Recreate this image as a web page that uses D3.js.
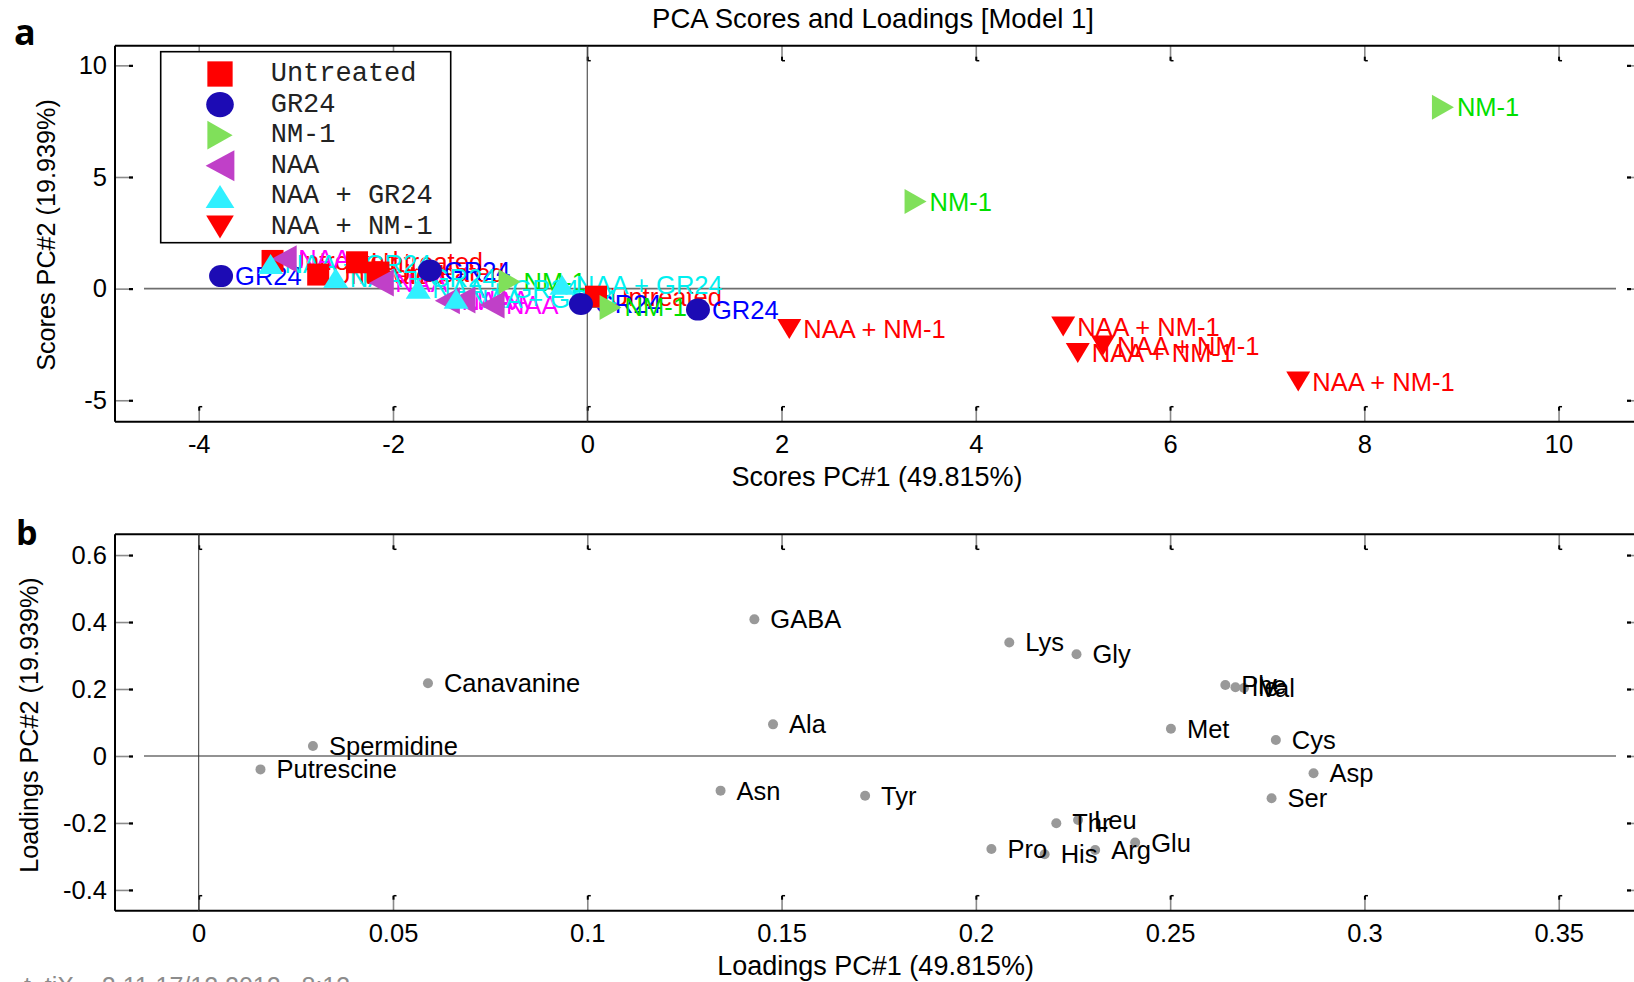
<!DOCTYPE html>
<html><head><meta charset="utf-8">
<script src="https://cdn.jsdelivr.net/npm/d3@7"></script>
<style>
body{margin:0;background:#fff}
svg{display:block}
</style>
</head><body>
<svg id="c" width="1634" height="982" font-family='"Liberation Sans",Arial,sans-serif'></svg>
<script>
// ---------------- DATA ----------------
const groupNames = ["Untreated","GR24","NM-1","NAA","NAA + GR24","NAA + NM-1"];
// scores [PC1, PC2]
const untreated = [[-3.24,1.24],[-2.77,0.63],[-2.37,1.18],[-2.15,0.72],[0.09,-0.36]];
const gr24      = [[-3.77,0.56],[-1.62,0.81],[-0.065,-0.69],[1.14,-0.94]];
const nm1       = [[8.81,8.12],[3.38,3.90],[-0.80,0.31],[0.24,-0.84]];
const naa       = [[-3.12,1.34],[-2.12,0.25],[-1.44,-0.54],[-1.28,-0.51],[-0.98,-0.73]];
const naaGr24   = [[-3.26,1.10],[-2.59,0.48],[-1.74,-0.01],[-1.35,-0.45],[-0.26,0.17]];
const naaNm1    = [[2.08,-1.81],[4.90,-1.70],[5.31,-2.55],[5.05,-2.88],[7.32,-4.16]];

const scoreXTicks = [-4,-2,0,2,4,6,8,10];
const scoreXTickLabels = ["-4","-2","0","2","4","6","8","10"];
const scoreYTicks = [-5,0,5,10];
const scoreYTickLabels = ["-5","0","5","10"];

// loadings
const loadNames = ["Putrescine","Spermidine","Canavanine","GABA","Ala","Asn","Tyr","Lys","Gly","Phe","Ile","Val","Met","Cys","Asp","Ser","Thr","Leu","Pro","His","Arg","Glu"];
const loadPC1 = [0.0159,0.0294,0.0590,0.1430,0.1478,0.1343,0.1715,0.2086,0.2259,0.2642,0.2668,0.2690,0.2502,0.2772,0.2869,0.2761,0.2207,0.2263,0.2040,0.2177,0.2307,0.2410];
const loadPC2 = [-0.040,0.030,0.217,0.408,0.0945,-0.1035,-0.119,0.339,0.304,0.212,0.205,0.203,0.0815,0.0478,-0.0517,-0.126,-0.201,-0.191,-0.2776,-0.2934,-0.2806,-0.2587];

const loadXTicks = [0,0.05,0.1,0.15,0.2,0.25,0.3,0.35];
const loadXTickLabels = ["0","0.05","0.1","0.15","0.2","0.25","0.3","0.35"];
const loadYTicks = [-0.4,-0.2,0,0.2,0.4,0.6];
const loadYTickLabels = ["-0.4","-0.2","0","0.2","0.4","0.6"];

// ---------------- STYLE ----------------
const SANS = '"Liberation Sans",Arial,sans-serif';
const MONO = '"Liberation Mono","Courier New",monospace';
const groupStyle = [
  {shape:"square", fill:"#ff0000", label:"#ff0000"},
  {shape:"circle", fill:"#1c0bb4", label:"#0000ff"},
  {shape:"right",  fill:"#80e05a", label:"#00e000"},
  {shape:"left",   fill:"#c040c8", label:"#ff00ff"},
  {shape:"up",     fill:"#30f0ff", label:"#00f0f0"},
  {shape:"down",   fill:"#ff0000", label:"#ff0000"}
];
const groupData = [untreated, gr24, nm1, naa, naaGr24, naaNm1];

function shapePath(shape, s){
  switch(shape){
    case "square": {const a=11*s; return `M${-a},${-a}H${a}V${a}H${-a}Z`;}
    case "circle": {const rx=12*s, ry=11*s; return `M${-rx},0A${rx},${ry} 0 1,0 ${rx},0A${rx},${ry} 0 1,0 ${-rx},0Z`;}
    case "right": {const w=11*s,h=12.5*s; return `M${-w},${-h}L${w},0L${-w},${h}Z`;}
    case "left":  {const w=12.5*s,h=13.5*s; return `M${w},${-h}L${-w},0L${w},${h}Z`;}
    case "up":    {const w=12.5*s,h=10*s; return `M0,${-h}L${w},${h}L${-w},${h}Z`;}
    case "down":  {const w=12*s,h=10*s; return `M${-w},${-h}L${w},${-h}L0,${h}Z`;}
  }
}

const svg = d3.select("#c");

const A = {l:115, r:1645, t:45.7, b:421.7};
const xS = d3.scaleLinear().domain([-4.862, 10.89]).range([A.l, A.r]);
const yS = d3.scaleLinear().domain([-5.96, 10.88]).range([A.b, A.t]);

const B = {l:115, r:1645, t:534.3, b:910.7};
const xL = d3.scaleLinear().domain([-0.02154, 0.3722]).range([B.l, B.r]);
const yL = d3.scaleLinear().domain([-0.462, 0.662]).range([B.b, B.t]);

function drawAxes(P, xs, ys, xt, xtl, yt, ytl){
  const g = svg.append("g");
  const ab = g.append("g").attr("transform",`translate(0,${P.b})`)
    .call(d3.axisBottom(xs).tickValues(xt).tickFormat((d,i)=>xtl[i]).tickSizeInner(-15).tickSizeOuter(0).tickPadding(13));
  const at = g.append("g").attr("transform",`translate(0,${P.t})`)
    .call(d3.axisTop(xs).tickValues(xt).tickFormat("").tickSizeInner(-15).tickSizeOuter(0));
  const al = g.append("g").attr("transform",`translate(${P.l},0)`)
    .call(d3.axisLeft(ys).tickValues(yt).tickFormat((d,i)=>ytl[i]).tickSizeInner(-18).tickSizeOuter(0).tickPadding(8));
  const ar = g.append("g").attr("transform",`translate(${P.r},0)`)
    .call(d3.axisRight(ys).tickValues(yt).tickFormat("").tickSizeInner(-18).tickSizeOuter(0));
  [ab,at,al,ar].forEach(a=>{
    a.select(".domain").remove();
    a.selectAll(".tick line").attr("stroke","#8a8a8a").attr("stroke-width",1.6);
    a.selectAll(".tick text").attr("fill","#000").attr("font-size",25.5).attr("font-family",SANS);
  });
  ab.selectAll(".tick").append("line").attr("x1",0).attr("x2",0).attr("y1",-15).attr("y2",-11).attr("stroke","#000").attr("stroke-width",2);
  at.selectAll(".tick").append("line").attr("x1",0).attr("x2",0).attr("y1",15).attr("y2",11).attr("stroke","#000").attr("stroke-width",2);
  at.selectAll(".tick").append("line").attr("x1",0).attr("x2",3).attr("y1",15).attr("y2",15).attr("stroke","#000").attr("stroke-width",1.5);
  ab.selectAll(".tick").append("line").attr("x1",0).attr("x2",3).attr("y1",-15).attr("y2",-15).attr("stroke","#000").attr("stroke-width",1.5);
  al.selectAll(".tick").append("line").attr("x1",14).attr("x2",18).attr("y1",0).attr("y2",0).attr("stroke","#000").attr("stroke-width",2.2);
  ar.selectAll(".tick").append("line").attr("x1",-18).attr("x2",-14).attr("y1",0).attr("y2",0).attr("stroke","#000").attr("stroke-width",2.2);
  g.append("line").attr("x1",P.l).attr("x2",P.r).attr("y1",P.t).attr("y2",P.t).attr("stroke","#000").attr("stroke-width",2);
  g.append("line").attr("x1",P.l).attr("x2",P.r).attr("y1",P.b).attr("y2",P.b).attr("stroke","#000").attr("stroke-width",2);
  g.append("line").attr("x1",P.l).attr("x2",P.l).attr("y1",P.t).attr("y2",P.b).attr("stroke","#000").attr("stroke-width",2);
  g.append("line").attr("x1",144).attr("x2",1616).attr("y1",ys(0)).attr("y2",ys(0)).attr("stroke","#6e6e6e").attr("stroke-width",1.6);
  g.append("line").attr("x1",xs(0)).attr("x2",xs(0)).attr("y1",P.t).attr("y2",P.b).attr("stroke","#333").attr("stroke-width",1);
}

drawAxes(A, xS, yS, scoreXTicks, scoreXTickLabels, scoreYTicks, scoreYTickLabels);
drawAxes(B, xL, yL, loadXTicks, loadXTickLabels, loadYTicks, loadYTickLabels);

// score labels (below markers)
const gLab = svg.append("g");
groupData.forEach((arr,gi)=>{
  gLab.selectAll(null).data(arr).enter().append("text")
    .attr("x",d=>xS(d[0])+14).attr("y",d=>yS(d[1]))
    .attr("dominant-baseline","central")
    .attr("font-size",25.5).attr("fill",groupStyle[gi].label)
    .text(groupNames[gi]);
});
// score markers
const gMk = svg.append("g");
groupData.forEach((arr,gi)=>{
  gMk.selectAll(null).data(arr).enter().append("path")
    .attr("transform",d=>`translate(${xS(d[0])},${yS(d[1])})`)
    .attr("d",shapePath(groupStyle[gi].shape,1))
    .attr("fill",groupStyle[gi].fill);
});

// legend
const lg = svg.append("g");
lg.append("rect").attr("x",160.7).attr("y",51.7).attr("width",290).attr("height",191)
  .attr("fill","#fff").attr("stroke","#000").attr("stroke-width",1.6);
groupNames.forEach((n,i)=>{
  const yy = 74 + i*30.6;
  lg.append("path").attr("transform",`translate(220,${yy})`)
    .attr("d",shapePath(groupStyle[i].shape,1.15)).attr("fill",groupStyle[i].fill);
  lg.append("text").attr("x",270.7).attr("y",yy).attr("dominant-baseline","central")
    .attr("font-family",MONO).style("font-family",MONO).attr("font-size",27)
    .attr("fill","#222").text(n);
});

// loadings
const loadData = loadNames.map((n,i)=>({n, x:loadPC1[i], y:loadPC2[i]}));
const gL = svg.append("g");
gL.selectAll("circle").data(loadData).enter().append("circle")
  .attr("cx",d=>xL(d.x)).attr("cy",d=>yL(d.y)).attr("r",5).attr("fill","#999");
gL.selectAll("text").data(loadData).enter().append("text")
  .attr("x",d=>xL(d.x)+16).attr("y",d=>yL(d.y)).attr("dominant-baseline","central")
  .attr("font-size",25.5).attr("fill","#000").text(d=>d.n);

// titles and axis labels
svg.append("text").attr("x",873).attr("y",18).attr("text-anchor","middle").attr("dominant-baseline","central")
  .attr("font-size",27.5).text("PCA Scores and Loadings [Model 1]");
svg.append("text").attr("x",877).attr("y",477).attr("text-anchor","middle").attr("dominant-baseline","central")
  .attr("font-size",27).text("Scores PC#1 (49.815%)");
svg.append("text").attr("transform","translate(45.8,235) rotate(-90)").attr("text-anchor","middle").attr("dominant-baseline","central")
  .attr("font-size",25.2).text("Scores PC#2 (19.939%)");
svg.append("text").attr("x",875.6).attr("y",966).attr("text-anchor","middle").attr("dominant-baseline","central")
  .attr("font-size",27).text("Loadings PC#1 (49.815%)");
svg.append("text").attr("transform","translate(28.8,725) rotate(-90)").attr("text-anchor","middle").attr("dominant-baseline","central")
  .attr("font-size",25.2).text("Loadings PC#2 (19.939%)");

// panel letters
svg.append("text").attr("x",14).attr("y",45).style("font-family",'"Open Sans",Arial,sans-serif')
  .attr("font-weight","bold").attr("font-size",36).text("a");
svg.append("text").attr("x",16).attr("y",545).style("font-family",'"Open Sans",Arial,sans-serif')
  .attr("font-weight","bold").attr("font-size",34).text("b");

// cut-off footer stamp
svg.append("text").attr("x",24).attr("y",995).attr("font-size",25).attr("fill","#8c8c8c")
  .style("white-space","pre")
  .text("t  tiX    2.11 17/12 2012   8:13");
</script>
</body></html>
